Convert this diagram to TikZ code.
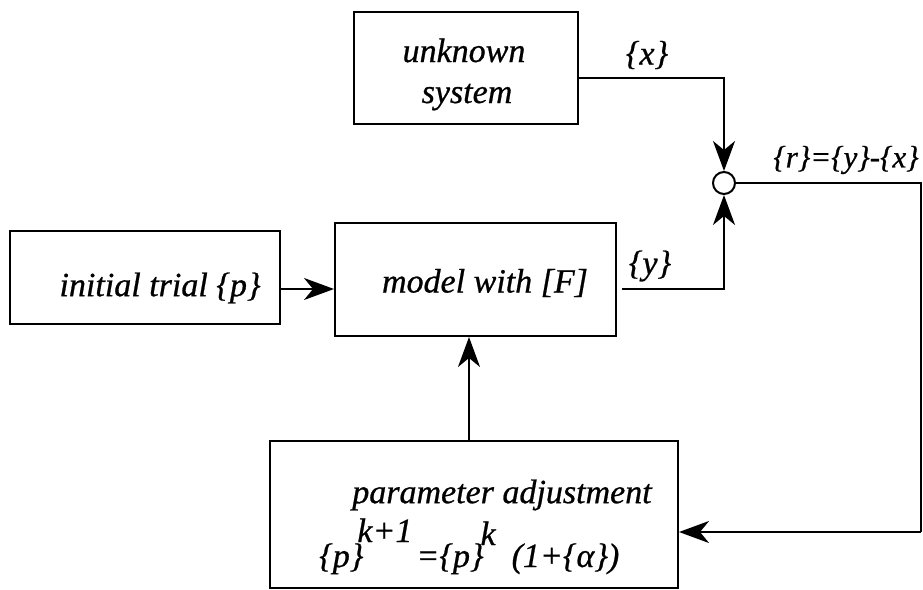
\documentclass[tikz,border=0pt]{standalone}
\usepackage{fontspec}
\setmainfont{Liberation Serif}[ItalicFont={Liberation Serif Italic}, ItalicFeatures={FakeBold=0.7}]
\usetikzlibrary{arrows.meta}
\tikzset{
  blk/.style={draw, line width=2pt, inner sep=0pt},
  lbl/.style={inner sep=0pt, font=\fontsize{34}{40}\selectfont\itshape},
  arr/.style={line width=2pt, -{Stealth[length=30pt,width=22pt,inset=9pt]}},
  ln/.style={line width=2pt},
}
\begin{document}
\begin{tikzpicture}[x=1pt,y=-1pt]
\useasboundingbox (0,0) rectangle (923,589);
% boxes
\node[blk, minimum width=224pt, minimum height=112pt] (unknown) at (466,68) {};
\node[blk, minimum width=270pt, minimum height=93pt] (initial) at (145,277.5) {};
\node[blk, minimum width=281pt, minimum height=113pt] (model) at (475.5,279.5) {};
\node[blk, minimum width=408pt, minimum height=147pt] (param) at (474,514) {};
\node[draw, line width=2pt, circle, minimum size=22pt, inner sep=0pt] (sum) at (724,183) {};
% texts
\node[lbl, anchor=base] (tunk1) at (464,62) {unknown};
\node[lbl, anchor=base] (tunk2) at (467,103) {system};
\node[lbl] (tinit) at (160,288) {initial trial \{p\}};
\node[lbl] (tmodel) at (485,283) {model with [F]};
\node[lbl] (tparam) at (502,495) {parameter adjustment};
\node[lbl, anchor=base west] (tform) at (319,567) {\{p\}\hspace{-6pt}\raisebox{25pt}{k+1}\hspace{4pt}=\{p\}\hspace{-3pt}\raisebox{22pt}{k}\hspace{16pt}(1+\{α\})};
\node[lbl] (tx) at (647,55) {\{x\}};
\node[lbl, font=\fontsize{31}{36}\selectfont\itshape] (tr) at (846,160) {\{r\}=\{y\}-\{x\}};
\node[lbl] (ty) at (650,266) {\{y\}};
% connectors
\coordinate (ux) at (578,78);
\draw[arr] (ux) -| (sum.north);
\coordinate (my) at (622,289);
\draw[arr] (my) -| (sum.south);
\coordinate (ip) at (280,289);
\draw[arr] (ip) -- (ip -| model.west);
\coordinate (pm) at (469,440);
\draw[arr] (pm) -- (pm |- model.south);
\coordinate (c1) at (921,183);
\coordinate (c2) at (921,532);
\draw[ln] (sum.east) -- (c1) -- (c2);
\draw[arr] (c2) -- (c2 -| param.east);
\end{tikzpicture}
\end{document}
